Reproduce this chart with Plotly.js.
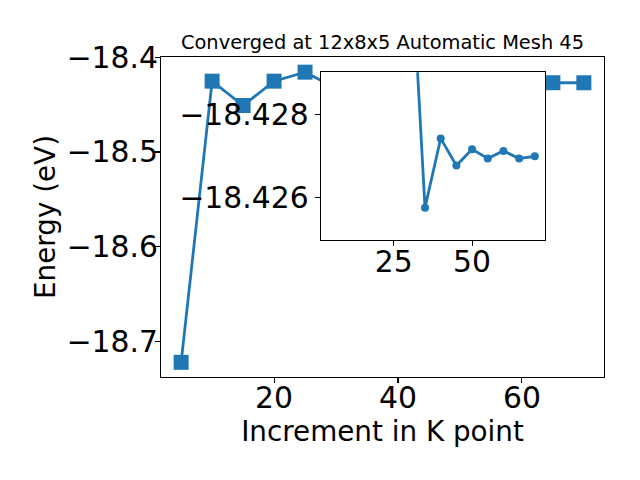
<!DOCTYPE html>
<html>
<head>
<meta charset="utf-8">
<script src="https://cdn.plot.ly/plotly-3.0.1.min.js"></script>
<style>html,body{margin:0;padding:0;background:#fff;}</style>
</head>
<body>
<div id="chart" style="width:640px;height:480px;"></div>
<script>
// ---- data ----
const kPoints = [5, 10, 15, 20, 25, 30, 35, 40, 45, 50, 55, 60, 65, 70];
const energy = [-18.7220, -18.4253, -18.4510, -18.4253, -18.4158, -18.4326, -18.42576,
                -18.42742, -18.42677, -18.42716, -18.42694, -18.42712, -18.42694, -18.42699];
const insetStart = 5; // the inset shows the points from K = 30 on
const insetK = kPoints.slice(insetStart);
const insetEnergy = energy.slice(insetStart);

const mainXTicks = [20, 40, 60];
const mainYTicks = [-18.7, -18.6, -18.5, -18.4];
const insetXTicks = [25, 50];
const insetYTicks = [-18.428, -18.426];

const titleText = 'Converged at 12x8x5 Automatic Mesh 45';
const xTitle = 'Increment in K point';
const yTitle = 'Energy (eV)';

// ---- view ranges ----
const mainXRange = [1.75, 73.25];
const mainYRange = [-18.7375, -18.3998];
const insetXRange = [1.75, 73.25];
const insetYRange = [-18.42499, -18.42900]; // inverted axis

const blue = '#1f77b4';
const font = 'DejaVu Sans, sans-serif';
const titleFont = {family: font, size: 27.8, color: '#000'};
const tickFont = {family: font, size: 29.8, color: '#000'};

const traces = [
  {
    x: kPoints, y: energy, xaxis: 'x', yaxis: 'y',
    type: 'scatter', mode: 'lines+markers',
    line: {color: blue, width: 2.8},
    marker: {symbol: 'square', size: 15, color: blue},
    hoverinfo: 'skip'
  },
  {
    x: insetK, y: insetEnergy, xaxis: 'x2', yaxis: 'y2',
    type: 'scatter', mode: 'lines+markers',
    line: {color: blue, width: 2.8},
    marker: {symbol: 'circle', size: 8, color: blue},
    hoverinfo: 'skip'
  }
];

const axisCommon = {
  showgrid: false, zeroline: false,
  showline: true, linecolor: '#000', linewidth: 1.1, mirror: true,
  ticks: 'outside', ticklen: 5, tickwidth: 1.1, tickcolor: '#000',
  tickfont: tickFont, automargin: false
};

const layout = {
  width: 640, height: 480,
  margin: {l: 161, r: 36, t: 57, b: 103, pad: 0},
  paper_bgcolor: '#fff', plot_bgcolor: '#fff',
  showlegend: false,
  font: {family: font, color: '#000'},
  title: {
    text: titleText,
    font: {family: font, size: 19.4, color: '#000'},
    xref: 'paper', x: 0.5, xanchor: 'center',
    yref: 'paper', y: 1, yanchor: 'bottom',
    pad: {b: 8}
  },
  xaxis: Object.assign({}, axisCommon, {
    domain: [0, 1], anchor: 'y',
    range: mainXRange, tickvals: mainXTicks, ticklabelstandoff: -11,
    title: {text: xTitle, font: titleFont, standoff: 2}
  }),
  yaxis: Object.assign({}, axisCommon, {
    domain: [0, 1], anchor: 'x',
    range: mainYRange, tickvals: mainYTicks, tickformat: '.1f', ticklabelstandoff: -9,
    title: {text: yTitle, font: titleFont, standoff: 2.5}
  }),
  xaxis2: Object.assign({}, axisCommon, {
    domain: [0.3605, 0.8668], anchor: 'y2',
    range: insetXRange, tickvals: insetXTicks, ticklabelstandoff: -10
  }),
  yaxis2: Object.assign({}, axisCommon, {
    domain: [0.4281, 0.9522], anchor: 'x2',
    range: insetYRange, tickvals: insetYTicks, tickformat: '.3f'
  }),
  shapes: [{
    // white background of the inset, covering the main line beneath it
    type: 'rect', xref: 'x2', yref: 'y2', layer: 'below',
    x0: insetXRange[0], x1: insetXRange[1], y0: insetYRange[0], y1: insetYRange[1],
    fillcolor: '#fff', line: {width: 0}
  }]
};

Plotly.newPlot('chart', traces, layout, {displayModeBar: false, staticPlot: true});
</script>
</body>
</html>
